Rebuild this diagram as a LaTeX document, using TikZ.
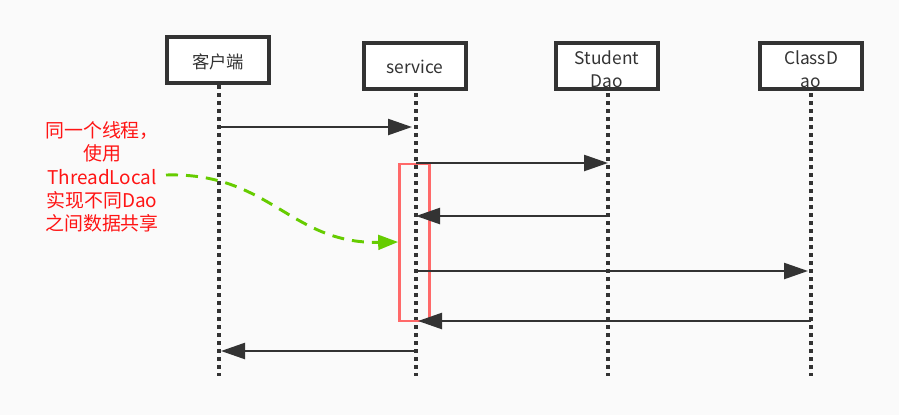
\documentclass[tikz,border=0pt]{standalone}
\usepackage{fontspec}
\setmainfont{Noto Sans CJK SC}
\usepackage{tikz}
\usetikzlibrary{arrows.meta}
\definecolor{ink}{RGB}{51,51,51}
\definecolor{bgc}{RGB}{250,250,250}
\definecolor{noteRed}{RGB}{255,20,20}
\definecolor{actRed}{RGB}{255,105,105}
\definecolor{leafGreen}{RGB}{102,204,0}
\tikzset{
	box/.style={draw=ink, line width=2.4pt, fill=white, minimum width=76.5pt, minimum height=34.5pt, inner sep=0pt},
	boxtext/.style={font=\fontsize{13}{17.25}\selectfont, text=ink, align=center},
	life/.style={ink, line width=2.4pt, dash pattern=on 3pt off 3pt},
	msg/.style={ink, line width=1.8pt, -{Triangle[length=18pt, width=12pt]}},
	hint/.style={leafGreen, line width=2.2pt, dash pattern=on 9pt off 6pt, -{Triangle[length=15pt, width=11pt]}},
}
\begin{document}
\begin{tikzpicture}[x=0.75pt, y=-0.75pt]
\fill[bgc] (0,0) rectangle (899,415);
\useasboundingbox (0,0) rectangle (899,415);
% lifelines
\foreach \n/\x in {client/219, service/416, sdao/608, cdao/811} {
	\coordinate (\n top) at (\x, 85);
	\coordinate (\n end) at (\x, 376);
	\draw[life] (\n top) -- (\n end);
}
% boxes
\node[box] (client) at (218, 60) {};
\node[boxtext] (clientlbl) at (218, 62) {客户端};
\node[box] (service) at (415, 66) {};
\node[boxtext] (servicelbl) at (415, 67) {service};
\node[box] (sdao) at (607, 66) {};
\node[boxtext] (sdaolbl) at (607, 69) {Student\\Dao};
\node[box] (cdao) at (811, 66) {};
\node[boxtext] (cdaolbl) at (811, 69) {ClassD\\ao};
% activation
\node[draw=actRed, line width=2pt, minimum width=22.5pt, minimum height=117.75pt, inner sep=0pt] (act) at (414.5, 242.5) {};
% message points
\coordinate (c1) at (219, 127);
\coordinate (s1) at (412, 127);
\coordinate (s2) at (416, 163);
\coordinate (d2) at (608, 163);
\coordinate (d3) at (608, 216);
\coordinate (s3) at (416, 216);
\coordinate (s4) at (416, 271);
\coordinate (e4) at (808, 271);
\coordinate (e5) at (811, 321);
\coordinate (s5) at (418, 321);
\coordinate (s6) at (416, 351);
\coordinate (c6) at (221, 351);
\draw[msg] (c1) -- (s1);
\draw[msg] (s2) -- (d2);
\draw[msg] (d3) -- (s3);
\draw[msg] (s4) -- (e4);
\draw[msg] (e5) -- (s5);
\draw[msg] (s6) -- (c6);
% note
\node[font=\fontsize{14.2}{17.4}\selectfont, text=noteRed, align=center, inner sep=0pt] (note) at (102, 177) {同一个线程，\\使用\\ThreadLocal\\实现不同Dao\\之间数据共享};
\coordinate (hintstart) at (166, 175);
\draw[hint] (hintstart) .. controls (270, 172) and (290, 244) .. (act.west |- 0, 242);
\end{tikzpicture}
\end{document}
